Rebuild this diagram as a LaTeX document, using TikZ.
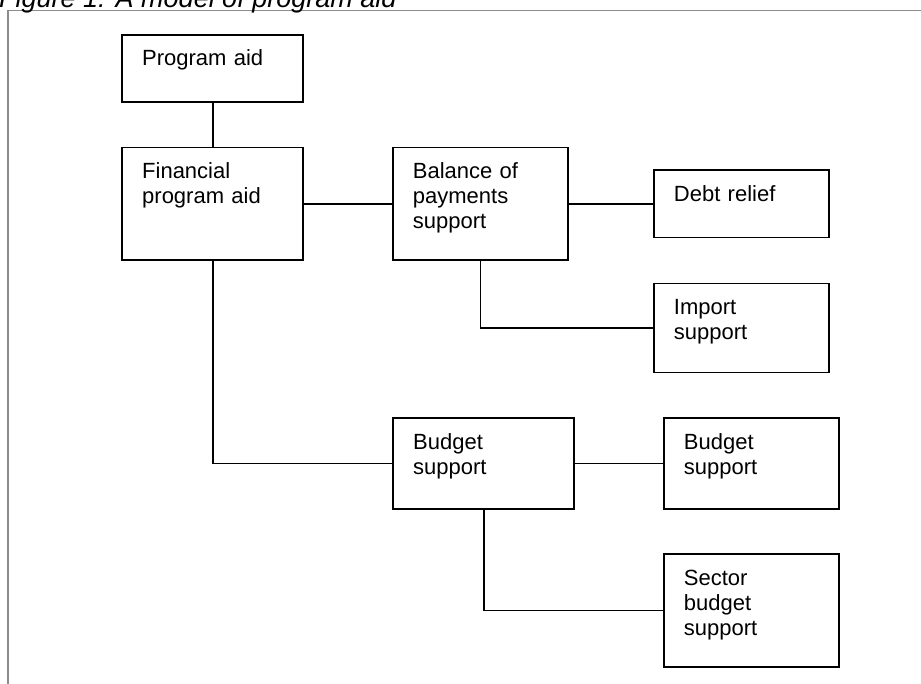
\documentclass[tikz,border=0pt]{standalone}
\usepackage{fontspec}
\setmainfont{Liberation Sans}
\usepackage{xcolor}
\definecolor{framegray}{HTML}{8C8C8C}

\begin{document}
\begin{tikzpicture}[x=1pt,y=-1pt,
	blk/.style={draw, line width=1.8pt, anchor=north west, align=left,
		inner xsep=20pt, inner ysep=0pt, text height=31pt,
		font=\fontsize{22}{25}\selectfont},
	link/.style={line width=1.7pt}]
	\useasboundingbox (0,0) rectangle (921,684);
	% frame and caption
	\draw[framegray, line width=1.8pt] (930,10.5) -- (8,10.5) -- (8,700);
	\node[anchor=base west, inner sep=0pt, font=\fontsize{27}{30}\selectfont\itshape] (cap) at (-1,7.5) {Figure 1: A model of program aid};

	\node[blk, text width=141pt, text depth=36.5pt] (pa) at (121.3,34) {Program aid};
	\node[blk, text width=141pt, text depth=81.5pt] (fpa) at (121.3,146.7) {Financial\\program aid};
	\node[blk, text width=135pt, text depth=81.5pt] (bop) at (392,146.7) {Balance of\\payments\\support};
	\node[blk, text width=135pt, text depth=36.5pt] (debt) at (653,169.2) {Debt relief};
	\node[blk, text width=135pt, text depth=58pt] (imp) at (653,282.7) {Import\\support};
	\node[blk, text width=141pt, text depth=59.4pt] (bs) at (392.3,417.3) {Budget\\support};
	\node[blk, text width=135pt, text depth=59.4pt] (bs2) at (663,417.3) {Budget\\support};
	\node[blk, text width=135pt, text depth=81.7pt] (sbs) at (663,553.3) {Sector\\budget\\support};

	%\draw[link] (pa) -- (fpa);
	\draw[link] (pa.south) -- (fpa.north);
	\draw[link] (fpa.east) -- (fpa.east -| bop.west);
	\draw[link] (bop.east) -- (bop.east -| debt.west);
	\draw[link] (bop.south) |- (imp.west);
	\draw[link] (fpa.south) |- (bs.west);
	\draw[link] (bs.east) -- (bs.east -| bs2.west);
	\draw[link] (bs.south) |- (sbs.west);
\end{tikzpicture}
\end{document}
